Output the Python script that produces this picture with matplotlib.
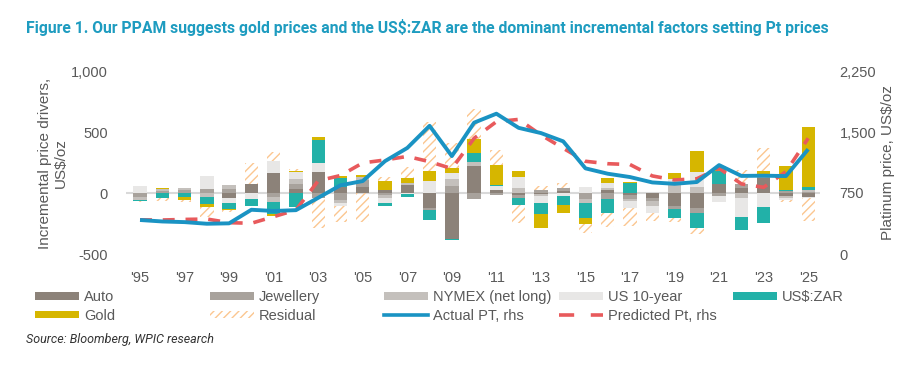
import matplotlib.pyplot as plt
from matplotlib.patches import Patch
from matplotlib.lines import Line2D
import numpy as np

plt.rcParams['font.family'] = ['Liberation Sans', 'DejaVu Sans']
plt.rcParams['hatch.linewidth'] = 1.0

years = list(range(1995, 2026))
xlabels = ["'%02d" % (y % 100) for y in years[::2]]

# incremental price drivers, US$/oz
auto = [0, 0, 0, 0, -45, 70, 160, 35, 175, 46, 50, 25, 65, -123, -377, 221,
        25, -20, -12, 20, 0, 25, -20, -40, -110, -126, 75, 45, 120, -25, -35]
jewellery = [-30, 20, 25, 30, 35, 0, -30, 40, -44, -57, 55, -20, 0, -20, 60, -52,
             -15, -25, 25, 18, -50, -49, -30, -25, -20, -41, -27, 25, 36, 14, 10]
nymex = [-27, 15, 20, -35, 30, 0, -45, 40, 0, -27, 27, -20, 20, 0, 52, 35,
         0, 38, -13, 0, -35, 15, -15, -38, 65, 46, 0, -44, 0, -20, 15]
us10 = [57, 0, 0, 109, -40, -46, 100, 55, 68, -22, 0, -40, -10, 98, 49, 0,
        35, 90, -60, -25, 46, 45, -55, -60, 46, 128, -49, -156, -112, -15, -5]
usdzar = [-10, -41, -33, -55, -45, -57, -100, -115, 190, 80, 0, -28, -22, -76, -8, 74,
          8, -55, -87, -72, -123, -117, 80, 0, -76, -123, 104, -104, -131, 11, 22]
gold = [0, 8, -27, -22, -8, 0, -15, 14, 27, 14, 14, 74, 35, 82, 41, 112,
        158, 50, -112, -68, -46, 40, 8, 0, 55, 170, 14, 0, 27, 200, 497]
residual = [-10, -25, -16, -82, -15, 172, 75, 14, -245, -128, -240, 30, 93, 404, 210, 243,
            125, -145, 35, 45, -76, -109, -150, -65, -35, -46, 27, 120, 184, -12, -191]

# platinum price, US$/oz (rhs)
actual_pt = [418, 400, 392, 372, 377, 544, 529, 539, 691, 845, 897, 1142, 1304, 1576, 1204, 1615,
             1725, 1551, 1487, 1385, 1053, 987, 946, 880, 863, 885, 1093, 960, 963, 958, 1288]
predicted_pt = [420, 418, 425, 430, 385, 378, 459, 541, 900, 965, 1120, 1156, 1200, 1135, 1050, 1423,
                1627, 1655, 1464, 1300, 1140, 1110, 1100, 960, 910, 925, 1054, 862, 820, 1012, 1423]

series = [
    ("Auto", auto, "#8C8279"),
    ("Jewellery", jewellery, "#A8A29C"),
    ("NYMEX (net long)", nymex, "#C4C0BC"),
    ("US 10-year", us10, "#E8E7E6"),
    ("US$:ZAR", usdzar, "#22B1A8"),
    ("Gold", gold, "#D6B600"),
]
hatch_col = "#FBC690"
grey_txt = "#595959"

fig = plt.figure(figsize=(9.2, 3.71), dpi=100)
ax = fig.add_axes([126 / 920, 1 - 254 / 371, 694 / 920, 183 / 371])
ax2 = ax.twinx()

x = np.arange(len(years))
w = 0.6
pos_base = np.zeros(len(years))
neg_base = np.zeros(len(years))
for name, vals, col in series:
    v = np.array(vals, dtype=float)
    bottom = np.where(v >= 0, pos_base, neg_base)
    ax.bar(x, v, w, bottom=bottom, color=col, linewidth=0, zorder=2)
    pos_base += np.clip(v, 0, None)
    neg_base += np.clip(v, None, 0)
r = np.array(residual, dtype=float)
ax.bar(x, r, w, bottom=np.where(r >= 0, pos_base, neg_base), facecolor="none",
       edgecolor=hatch_col, hatch="////", linewidth=0, zorder=2)

ax.axhline(0, color="#D9D9D9", lw=1.5, zorder=1)

ax2.plot(x, actual_pt, color="#1A93C3", lw=2.8, solid_capstyle="butt", zorder=5)
ax2.plot(x, predicted_pt, color="#E85A5C", lw=2.6, dashes=(3.3, 3.0), zorder=4)

ax.set_xlim(-0.63, 30.53)
ax.set_ylim(-500, 1000)
ax2.set_ylim(0, 2250)
ax.set_yticks([-500, 0, 500, 1000])
ax.set_yticklabels(["-500", "0", "500", "1,000"])
ax2.set_yticks([0, 750, 1500, 2250])
ax2.set_yticklabels(["0", "750", "1,500", "2,250"])
ax.set_xticks(x[::2])
ax.set_xticklabels(xlabels)

for a in (ax, ax2):
    for s in a.spines.values():
        s.set_visible(False)
    a.tick_params(length=0, labelsize=10.5, colors=grey_txt)
ax.tick_params(axis="y", pad=13)
ax.tick_params(axis="x", pad=12)
ax2.tick_params(axis="y", pad=14)

fig.text(53 / 920, 1 - 163 / 371, "Incremental price drivers,\nUS$/oz", rotation=90,
         ha="center", va="center", fontsize=11, color=grey_txt, multialignment="center")
fig.text(888 / 920, 1 - 163 / 371, "Platinum price, US$/oz", rotation=90,
         ha="center", va="center", fontsize=11, color=grey_txt)

fig.text(26 / 920, 1 - 28 / 371,
         "Figure 1. Our PPAM suggests gold prices and the US$:ZAR are the dominant incremental factors setting Pt prices",
         ha="left", va="center", fontsize=11.3, fontweight="bold", color="#1E9CC0",
         family=["Roboto", "DejaVu Sans"])
fig.text(26 / 920, 1 - 340 / 371, "Source: Bloomberg, WPIC research", ha="left", va="center",
         fontsize=9, style="italic", color="#333333", family=["Roboto", "DejaVu Sans"])

# legend, five manual columns
h = {name: Patch(facecolor=col, edgecolor="none") for name, _, col in series}
h["Residual"] = Patch(facecolor="none", edgecolor=hatch_col, hatch="////", linewidth=0)
h["Actual PT, rhs"] = Line2D([], [], color="#1A93C3", lw=2.6)
h["Predicted Pt, rhs"] = Line2D([], [], color="#E85A5C", lw=2.6, dashes=(4.2, 4.6))
columns = [["Auto", "Gold"], ["Jewellery", "Residual"], ["NYMEX (net long)", "Actual PT, rhs"],
           ["US 10-year", "Predicted Pt, rhs"], ["US$:ZAR"]]
col_x = [35, 210, 384, 559, 733]
for cx, names in zip(col_x, columns):
    leg = fig.legend([h[n] for n in names], names, loc="upper left",
                     bbox_to_anchor=(cx / 920, 1 - 290 / 371), frameon=False, fontsize=10.5,
                     handlelength=3.0, handleheight=0.45, handletextpad=0.35,
                     labelspacing=0.32, borderpad=0, borderaxespad=0)
    for t in leg.get_texts():
        t.set_color(grey_txt)

fig.savefig("out.png", dpi=100)
